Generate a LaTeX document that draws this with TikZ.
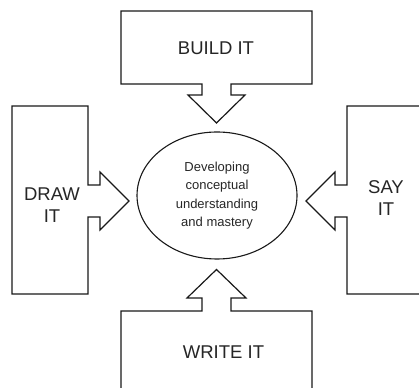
\documentclass[tikz,border=0pt]{standalone}
\usepackage{fontspec}
\setmainfont{Liberation Sans}
\usetikzlibrary{shapes.geometric}

\begin{document}
\begin{tikzpicture}[x=1pt, y=1pt,
                    outline/.style={draw=black!90, line width=1.2pt, line join=miter, fill=white},
                    box text/.style={font=\fontsize{18.5}{22}\selectfont, align=center, inner sep=0pt, text=black!85},
                    main node/.style={ellipse, draw=black!90, line width=1.1pt, minimum width=160, minimum height=127,
                                      inner sep=0pt, align=center, text=black!85, font=\fontsize{13}{18.3}\selectfont}]

   \clip (0,0) rectangle (419,387);

   % the four callout boxes
   \draw[outline] (121,376) -- (312,376) -- (312,303) -- (231,303) -- (231,292) -- (245,292)
      -- (216.5,264) -- (188,292) -- (202,292) -- (202,303) -- (121,303) -- cycle;
   \draw[outline] (12,281) -- (88,281) -- (88,202) -- (100,202) -- (100,215)
      -- (129,186) -- (100,157) -- (100,170) -- (88,170) -- (88,93) -- (12,93) -- cycle;
   \draw[outline] (430,281) -- (347,281) -- (347,202) -- (335,202) -- (335,215)
      -- (306,186) -- (335,157) -- (335,170) -- (347,170) -- (347,93) -- (430,93) -- cycle;
   \draw[outline] (121,-10) -- (121,76) -- (202,76) -- (202,89) -- (187,89)
      -- (216.5,117.5) -- (246,89) -- (231,89) -- (231,76) -- (312,76) -- (312,-10) -- cycle;

   \node[main node] (dev) at (217,191.5) {Developing\\conceptual\\understanding\\and mastery};

   \node[box text] (build) at (216,339) {BUILD IT};
   \node[box text] (drawit) at (52,182) {DRAW\\IT};
   \node[box text] (sayit) at (386,189) {SAY\\IT};
   \node[box text] (write) at (223.5,35) {WRITE IT};

\end{tikzpicture}
\end{document}
